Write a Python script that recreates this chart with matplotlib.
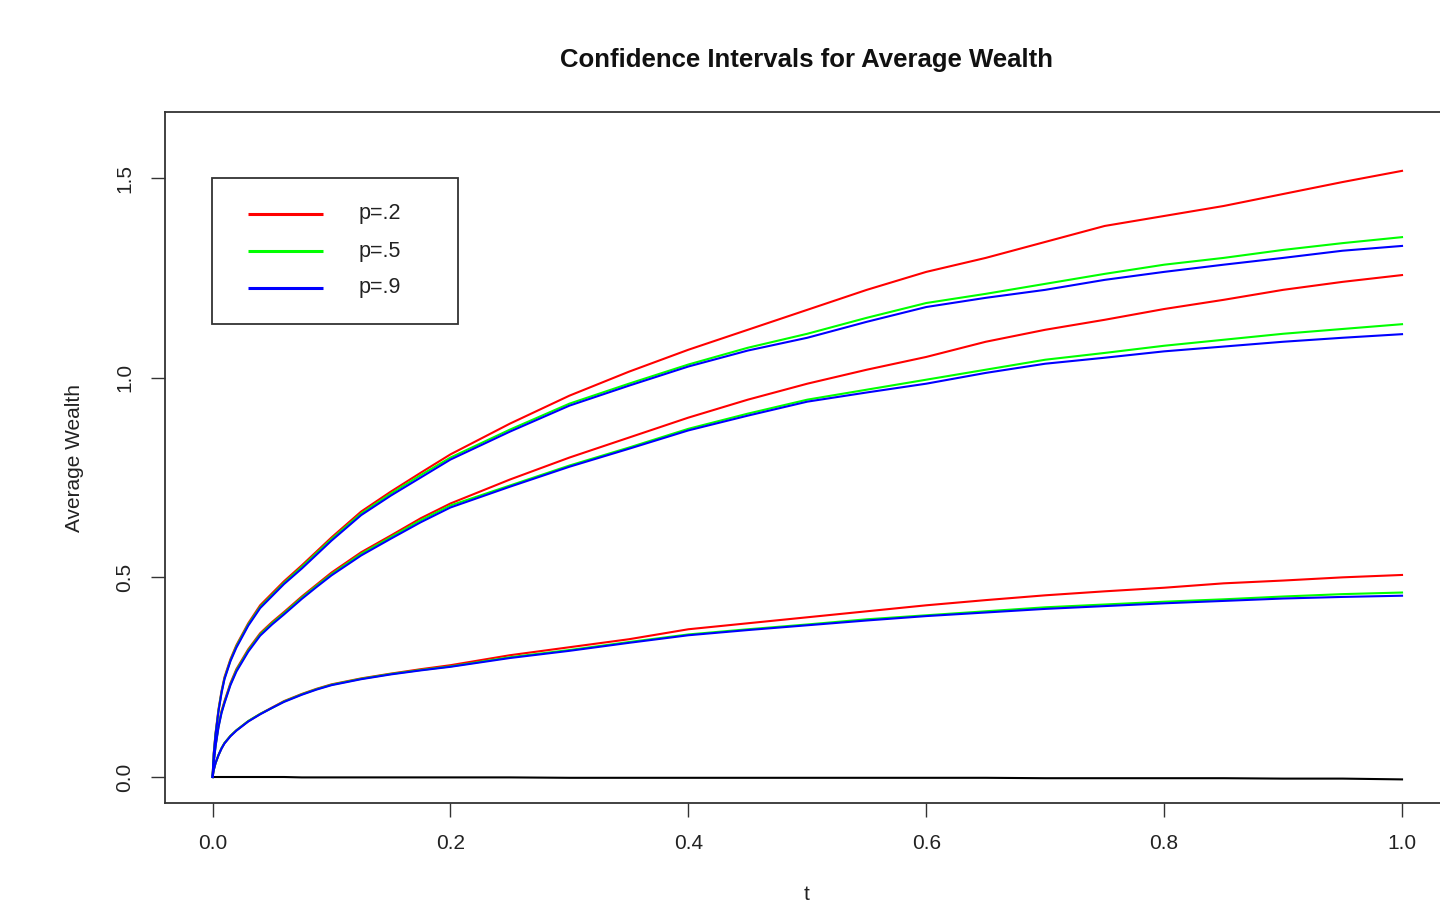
import matplotlib
matplotlib.use("Agg")
import matplotlib.pyplot as plt
from matplotlib.patches import Rectangle

plt.rcParams['font.family'] = ['Liberation Sans', 'DejaVu Sans']

# time grid (denser near 0 where the paths rise steeply)
t = [0.0, 0.001, 0.0025, 0.005, 0.0075, 0.01, 0.015, 0.02, 0.03, 0.04,
     0.05, 0.06, 0.075, 0.0875, 0.1, 0.125, 0.15, 0.175, 0.2,
     0.25, 0.3, 0.35, 0.4, 0.45, 0.5, 0.55, 0.6, 0.65,
     0.7, 0.75, 0.8, 0.85, 0.9, 0.95, 1.0]

# upper band
upper_p2 = [0.0, 0.06, 0.11, 0.17, 0.215, 0.25, 0.295, 0.33, 0.385, 0.43,
            0.46, 0.49, 0.53, 0.565, 0.60, 0.665, 0.715, 0.762, 0.808,
            0.885, 0.955, 1.015, 1.07, 1.12, 1.17, 1.22, 1.265, 1.30,
            1.34, 1.38, 1.405, 1.43, 1.46, 1.49, 1.518]
upper_p5 = [0.0, 0.058, 0.108, 0.167, 0.212, 0.247, 0.292, 0.327, 0.382, 0.426,
            0.456, 0.486, 0.526, 0.561, 0.596, 0.66, 0.71, 0.756, 0.80,
            0.87, 0.935, 0.985, 1.033, 1.075, 1.11, 1.15, 1.187, 1.21,
            1.235, 1.26, 1.283, 1.30, 1.32, 1.337, 1.352]
upper_p9 = [0.0, 0.057, 0.106, 0.165, 0.21, 0.245, 0.29, 0.324, 0.379, 0.423,
            0.453, 0.483, 0.522, 0.557, 0.592, 0.656, 0.705, 0.75, 0.795,
            0.865, 0.93, 0.98, 1.028, 1.068, 1.10, 1.14, 1.177, 1.20,
            1.22, 1.245, 1.265, 1.283, 1.30, 1.318, 1.330]

# middle band
mid_p2 = [0.0, 0.04, 0.08, 0.13, 0.165, 0.19, 0.235, 0.27, 0.32, 0.36,
          0.388, 0.413, 0.452, 0.482, 0.512, 0.563, 0.605, 0.648, 0.685,
          0.745, 0.80, 0.85, 0.90, 0.945, 0.985, 1.02, 1.052, 1.09,
          1.12, 1.145, 1.172, 1.195, 1.22, 1.24, 1.257]
mid_p5 = [0.0, 0.039, 0.078, 0.127, 0.162, 0.187, 0.232, 0.267, 0.317, 0.357,
          0.385, 0.41, 0.449, 0.479, 0.508, 0.559, 0.601, 0.643, 0.68,
          0.73, 0.78, 0.825, 0.872, 0.91, 0.945, 0.97, 0.995, 1.02,
          1.045, 1.062, 1.08, 1.095, 1.11, 1.122, 1.134]
mid_p9 = [0.0, 0.038, 0.077, 0.125, 0.16, 0.185, 0.23, 0.264, 0.314, 0.354,
          0.382, 0.407, 0.446, 0.476, 0.505, 0.555, 0.597, 0.638, 0.675,
          0.727, 0.777, 0.822, 0.868, 0.905, 0.94, 0.963, 0.985, 1.012,
          1.035, 1.05, 1.066, 1.078, 1.09, 1.10, 1.109]

# lower band
low_p2 = [0.0, 0.018, 0.035, 0.055, 0.072, 0.085, 0.103, 0.117, 0.14, 0.158,
          0.174, 0.19, 0.208, 0.221, 0.232, 0.247, 0.259, 0.27, 0.28,
          0.305, 0.325, 0.345, 0.37, 0.385, 0.40, 0.415, 0.43, 0.443,
          0.455, 0.465, 0.474, 0.485, 0.492, 0.50, 0.506]
low_p5 = [0.0, 0.018, 0.035, 0.055, 0.072, 0.085, 0.103, 0.117, 0.14, 0.158,
          0.173, 0.189, 0.207, 0.22, 0.231, 0.246, 0.258, 0.268, 0.277,
          0.30, 0.318, 0.338, 0.357, 0.37, 0.382, 0.395, 0.405, 0.415,
          0.425, 0.432, 0.439, 0.445, 0.452, 0.458, 0.462]
low_p9 = [0.0, 0.018, 0.035, 0.055, 0.071, 0.084, 0.102, 0.116, 0.139, 0.157,
          0.173, 0.188, 0.206, 0.219, 0.23, 0.245, 0.257, 0.267, 0.276,
          0.298, 0.316, 0.336, 0.355, 0.368, 0.38, 0.392, 0.403, 0.412,
          0.421, 0.428, 0.435, 0.441, 0.447, 0.451, 0.454]

# baseline path
base = [0.0, 0.0, 0.0, 0.0, 0.0, 0.0, 0.0, 0.0, 0.0, 0.0,
        0.0, 0.0, -0.001, -0.001, -0.001, -0.001, -0.001, -0.001, -0.001,
        -0.001, -0.002, -0.002, -0.002, -0.002, -0.002, -0.002, -0.002, -0.002,
        -0.003, -0.003, -0.003, -0.003, -0.004, -0.004, -0.006]

labels = ["p=.2", "p=.5", "p=.9"]
colors = ["#FF0000", "#00FF00", "#0000FF"]

fig = plt.figure(figsize=(14.4, 9.09), dpi=100)
ax = fig.add_axes([165 / 1440, 106 / 909, 1284.6 / 1440, 691 / 909])

lw = 1.5
ax.plot(t, base, color="black", lw=lw)
groups = [(upper_p2, mid_p2, low_p2), (upper_p5, mid_p5, low_p5), (upper_p9, mid_p9, low_p9)]
for (u, m, l), c in zip(groups, colors):
    for series in (u, m, l):
        ax.plot(t, series, color=c, lw=lw, solid_joinstyle="round")

ax.set_xlim(-0.04, 1.04)
ax.set_ylim(-0.0651, 1.6654)
ax.set_xticks([0.0, 0.2, 0.4, 0.6, 0.8, 1.0])
ax.set_xticklabels(["0.0", "0.2", "0.4", "0.6", "0.8", "1.0"])
ax.set_yticks([0.0, 0.5, 1.0, 1.5])
ax.set_yticklabels(["0.0", "0.5", "1.0", "1.5"])
ax.tick_params(axis="both", direction="out", length=10, width=1.0,
               labelsize=15, pad=12, color="#333333", labelcolor="#222222")
for lab in ax.get_yticklabels():
    lab.set_rotation(90)
    lab.set_va("center")
for sp in ax.spines.values():
    sp.set_linewidth(1.3)
    sp.set_color("#333333")

# legend box
tr = ax.transAxes
def ax_x(px):
    return (px - 165) / 1284.6
def ax_y(py):
    return (803 - py) / 691

ax.add_patch(Rectangle((ax_x(212), ax_y(324)), ax_x(458) - ax_x(212), ax_y(178) - ax_y(324),
                       transform=tr, fill=False, edgecolor="#333333", lw=1.3, zorder=5))
for lab, c, py in zip(labels, colors, [214, 251, 288]):
    ax.plot([ax_x(248), ax_x(323)], [ax_y(py), ax_y(py)], transform=tr, color=c, lw=2.2,
            solid_capstyle="butt", zorder=6)
    ax.text(ax_x(359), ax_y(py), lab, transform=tr, fontsize=15.5, va="center", ha="left",
            color="#222222", zorder=6)

fig.text(807 / 1440, 1 - 60 / 909, "Confidence Intervals for Average Wealth",
         ha="center", va="center", fontsize=18.5, fontweight="bold", color="#111111")
fig.text(807 / 1440, 1 - 895 / 909, "t", ha="center", va="center", fontsize=15, color="#222222")
fig.text(75 / 1440, 1 - 458 / 909, "Average Wealth", ha="center", va="center",
         rotation=90, fontsize=15, color="#222222")

fig.savefig("out.png", dpi=100, facecolor="white")
